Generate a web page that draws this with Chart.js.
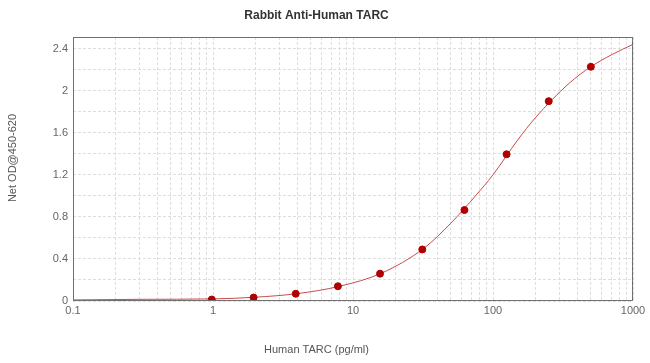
<!DOCTYPE html>
<html>
<head>
<meta charset="utf-8">
<script src="https://cdn.jsdelivr.net/npm/chart.js@4"></script>
<style>
  html, body { margin: 0; padding: 0; background: #fff; }
</style>
</head>
<body>
<canvas id="grafico" width="650" height="363"></canvas>
<script>
// standards (pg/ml) and measured OD
var concentracoes = [0.98, 1.95, 3.9, 7.8, 15.6, 31.25, 62.5, 125, 250, 500];
var odMedida = [0.014, 0.033, 0.069, 0.14, 0.26, 0.49, 0.865, 1.395, 1.90, 2.227];

// fitted curve
var curvaX = [0.1, 0.3, 1, 2, 4, 8, 16, 32, 50, 75, 100, 150, 200, 350, 500, 700, 1000];
var curvaY = [0.01, 0.016, 0.02, 0.036, 0.07, 0.14, 0.265, 0.5, 0.74, 1.0, 1.2, 1.53, 1.74, 2.07, 2.227, 2.34, 2.44];

var yTicks = [0, 0.2, 0.4, 0.6, 0.8, 1.0, 1.2, 1.4, 1.6, 1.8, 2.0, 2.2, 2.4];
var xDecadas = [0.1, 1, 10, 100];
var xRotulos = ["0.1", "1", "10", "100", "1000"];

var pontos = [];
for (var i = 0; i < concentracoes.length; i++) {
    pontos.push({ x: concentracoes[i], y: odMedida[i] });
}
var curva = [];
for (var j = 0; j < curvaX.length; j++) {
    curva.push({ x: curvaX[j], y: curvaY[j] });
}

// 1..9 per decade for the minor grid
var xTicks = [];
for (var d = 0; d < xDecadas.length; d++) {
    for (var m = 1; m < 10; m++) {
        xTicks.push({ value: +(xDecadas[d] * m).toPrecision(3) });
    }
}
xTicks.push({ value: 1000 });

var moldura = {
    id: "moldura",
    afterDatasetsDraw: function (chart) {
        var a = chart.chartArea, ctx = chart.ctx;
        ctx.save();
        ctx.strokeStyle = "#707070";
        ctx.lineWidth = 1;
        ctx.strokeRect(Math.round(a.left) + 0.5, Math.round(a.top) + 0.5,
            Math.round(a.right - a.left) - 1, Math.round(a.bottom - a.top) - 1);
        ctx.restore();
    },
    afterDraw: function (chart) {
        var ctx = chart.ctx;
        ctx.save();
        ctx.translate(13, 158);
        ctx.rotate(-Math.PI / 2);
        ctx.font = "11px 'Liberation Sans', Arial, sans-serif";
        ctx.fillStyle = "#555";
        ctx.textAlign = "center";
        ctx.textBaseline = "middle";
        ctx.fillText("Net OD@450-620", 0, 0);
        ctx.restore();
    }
};

Chart.defaults.font.family = "'Liberation Sans', Arial, sans-serif";

new Chart(document.getElementById("grafico"), {
    type: "scatter",
    data: {
        datasets: [{
            label: "Padrões",
            data: pontos,
            backgroundColor: "#b00000",
            borderColor: "#b00000",
            pointRadius: 3.5,
            order: 1
        }, {
            type: "line",
            label: "Curva",
            data: curva,
            borderColor: "rgb(200, 75, 75)",
            borderWidth: 1,
            pointRadius: 0,
            cubicInterpolationMode: "monotone",
            fill: false,
            order: 2
        }]
    },
    plugins: [moldura],
    options: {
        responsive: false,
        animation: false,
        devicePixelRatio: 1,
        layout: { padding: { top: 0, right: 17, bottom: 0, left: 0 } },
        plugins: {
            legend: { display: false },
            tooltip: { enabled: false },
            title: {
                display: true,
                text: "Rabbit Anti-Human TARC",
                color: "#333",
                font: { size: 12, weight: "bold" },
                padding: { top: 8, bottom: 14.6 }
            },
            subtitle: {
                display: true,
                position: "bottom",
                text: "Human TARC (pg/ml)",
                color: "#555",
                font: { size: 11, weight: "normal" },
                padding: { top: 0, bottom: 6 }
            }
        },
        scales: {
            x: {
                type: "logarithmic",
                min: 0.1,
                max: 1000,
                afterBuildTicks: function (scale) { scale.ticks = xTicks.slice(); },
                afterFit: function (scale) { scale.height = 42.8; },
                ticks: {
                    autoSkip: false,
                    maxRotation: 0,
                    color: "#666",
                    font: { size: 11 },
                    padding: 3,
                    callback: function (valor) {
                        var e = Math.log10(valor);
                        if (Math.abs(e - Math.round(e)) < 1e-6) {
                            return xRotulos[Math.round(e) + 1];
                        }
                        return "";
                    }
                },
                grid: {
                    color: "#dedede",
                    lineWidth: 1,
                    drawTicks: false
                },
                border: { display: false, dash: [3, 2] }
            },
            y: {
                min: 0,
                max: 2.51,
                afterBuildTicks: function (scale) {
                    scale.ticks = yTicks.map(function (v) { return { value: v }; });
                },
                afterFit: function (scale) { scale.width = 73; },
                ticks: {
                    color: "#666",
                    font: { size: 11 },
                    padding: 5,
                    callback: function (valor, indice) {
                        if (indice % 2 !== 0) return "";
                        return String(+valor.toFixed(1));
                    }
                },
                grid: {
                    color: "#dedede",
                    lineWidth: 1,
                    drawTicks: false
                },
                border: { display: false, dash: [3, 2] }
            }
        }
    }
});
</script>
</body>
</html>
